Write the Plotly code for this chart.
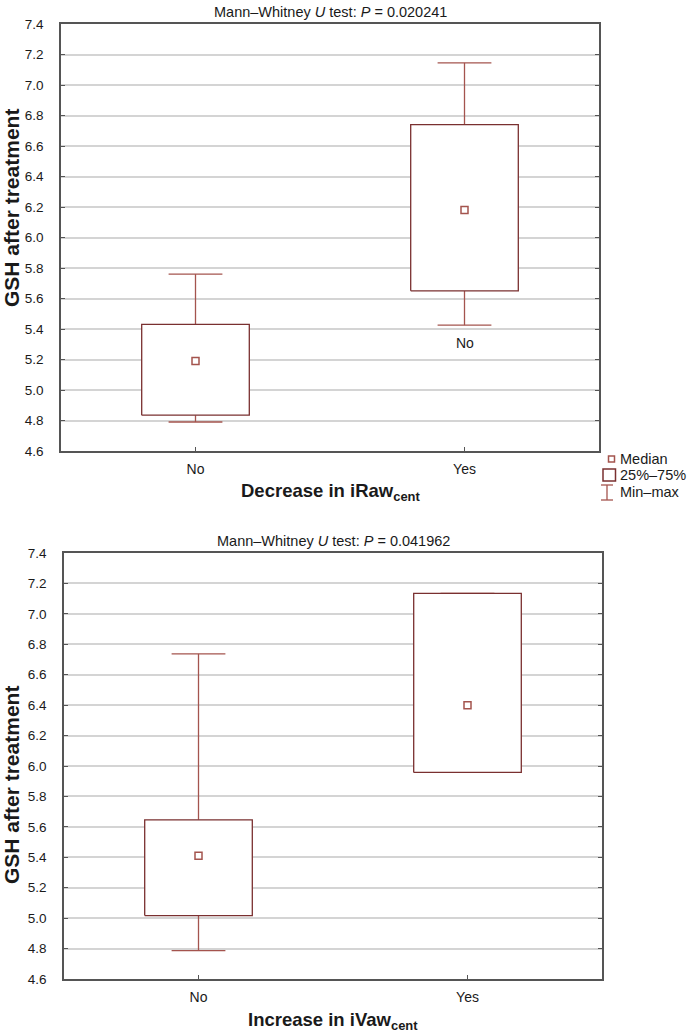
import plotly.graph_objects as go

# ---------------- data ----------------
categories = ["No", "Yes"]

# Panel 1: Decrease in iRaw_cent
p1_min = [4.79, 5.425]
p1_q1 = [4.835, 5.65]
p1_median = [5.19, 6.18]
p1_q3 = [5.43, 6.74]
p1_max = [5.76, 7.145]
p1_title = "Mann–Whitney <i>U</i> test: <i>P</i> = 0.020241"
p1_xlabel = "Decrease in iRaw<sub>cent</sub>"
p1_note_text = "No"
p1_note_y = 5.31

# Panel 2: Increase in iVaw_cent
p2_min = [4.787, 5.958]
p2_q1 = [5.017, 5.958]
p2_median = [5.41, 6.40]
p2_q3 = [5.646, 7.135]
p2_max = [6.737, 7.135]
p2_title = "Mann–Whitney <i>U</i> test: <i>P</i> = 0.041962"
p2_xlabel = "Increase in iVaw<sub>cent</sub>"

y_label = "GSH after treatment"
y_ticks = [4.6, 4.8, 5.0, 5.2, 5.4, 5.6, 5.8, 6.0, 6.2, 6.4, 6.6, 6.8, 7.0, 7.2, 7.4]
legend_labels = ["Median", "25%–75%", "Min–max"]

# ---------------- styling ----------------
W, H = 687, 1034
BOX_C = "#7a3030"
WHISK_C = "#a4544e"
MED_C = "#a4544e"
GRID_C = "#d4d4d4"
AXIS_C = "#555555"
TXT_C = "#1a1a1a"
FONT = "Liberation Sans, Arial, sans-serif"
BOX_HALF = 0.2
CAP_HALF = 0.1


def py_(py):
    return 1 - py / H


def px_(px):
    return px / W


fig = go.Figure()


def add_panel(xa, ya, mins, q1s, meds, q3s, maxs):
    xs_ref = "x" if xa == 1 else f"x{xa}"
    ys_ref = "y" if ya == 1 else f"y{ya}"
    for i, _ in enumerate(categories):
        fig.add_trace(go.Scatter(
            x=[i, i, None, i, i, None, i - CAP_HALF, i + CAP_HALF, None, i - CAP_HALF, i + CAP_HALF],
            y=[q3s[i], maxs[i], None, q1s[i], mins[i], None, maxs[i], maxs[i], None, mins[i], mins[i]],
            mode="lines", line=dict(color=WHISK_C, width=1.3),
            xaxis=xs_ref, yaxis=ys_ref, showlegend=False, hoverinfo="skip"))
        fig.add_trace(go.Scatter(
            x=[i - BOX_HALF, i + BOX_HALF, i + BOX_HALF, i - BOX_HALF, i - BOX_HALF],
            y=[q1s[i], q1s[i], q3s[i], q3s[i], q1s[i]],
            mode="lines", line=dict(color=BOX_C, width=1.3), fill="toself",
            fillcolor="white", xaxis=xs_ref, yaxis=ys_ref, showlegend=False, hoverinfo="skip"))
    fig.add_trace(go.Scatter(
        x=list(range(len(categories))), y=meds, mode="markers",
        marker=dict(symbol="square-open", size=7, color=MED_C, line=dict(width=1.5, color=MED_C)),
        xaxis=xs_ref, yaxis=ys_ref, showlegend=False))


add_panel(1, 1, p1_min, p1_q1, p1_median, p1_q3, p1_max)
add_panel(2, 2, p2_min, p2_q1, p2_median, p2_q3, p2_max)

p1_left, p1_right, p1_top, p1_bot = 61, 599, 24, 451
p2_left, p2_right, p2_top, p2_bot = 64, 602, 553, 979

xcommon = dict(range=[-0.5, 1.5], tickvals=list(range(len(categories))), ticktext=categories,
               showgrid=False, zeroline=False, showline=True, linecolor=AXIS_C, linewidth=1.5,
               mirror=True, ticks="inside", ticklen=4, tickcolor=AXIS_C, ticklabelstandoff=4,
               tickfont=dict(family=FONT, size=14, color=TXT_C), fixedrange=True, automargin=False)
ycommon = dict(range=[4.6, 7.4], tickvals=y_ticks, ticktext=[f"{v:.1f}" for v in y_ticks],
               showgrid=True, gridcolor=GRID_C, gridwidth=1.5, zeroline=False,
               showline=True, linecolor=AXIS_C, linewidth=1.5, mirror="ticks",
               ticks="inside", ticklen=4, tickcolor=AXIS_C, ticklabelstandoff=13,
               tickfont=dict(family=FONT, size=13.5, color=TXT_C), fixedrange=True, automargin=False)

fig.update_layout(
    width=W, height=H, margin=dict(l=0, r=0, t=0, b=0, autoexpand=False),
    paper_bgcolor="white", plot_bgcolor="white", showlegend=False,
    font=dict(family=FONT, color=TXT_C),
    xaxis=dict(xcommon, domain=[px_(p1_left), px_(p1_right)], anchor="y"),
    yaxis=dict(ycommon, domain=[py_(p1_bot), py_(p1_top)], anchor="x"),
    xaxis2=dict(xcommon, domain=[px_(p2_left), px_(p2_right)], anchor="y2"),
    yaxis2=dict(ycommon, domain=[py_(p2_bot), py_(p2_top)], anchor="x2"),
)


def ann(text, x, y, size, xanchor="center", yanchor="middle", angle=0, xref="paper", yref="paper"):
    return dict(text=text, x=x, y=y, xref=xref, yref=yref, showarrow=False, textangle=angle,
                xanchor=xanchor, yanchor=yanchor, font=dict(size=size, family=FONT, color=TXT_C))


annotations = [
    ann(p1_title, px_((p1_left + p1_right) / 2), py_(12), 14.5),
    ann(p2_title, px_((p2_left + p2_right) / 2), py_(541), 14.5),
    ann(f"<b>{p1_xlabel}</b>", px_((p1_left + p1_right) / 2), py_(492), 18.5),
    ann(f"<b>{p2_xlabel}</b>", px_((p2_left + p2_right) / 2), py_(1021), 18.5),
    ann(f"<b>{y_label}</b>", px_(11), py_(208), 21, angle=-90),
    ann(f"<b>{y_label}</b>", px_(11), py_(785), 21, angle=-90),
    ann(p1_note_text, 1, p1_note_y, 14, xref="x", yref="y"),
]
leg_rows_px = [459, 475, 492]
for lbl, ry in zip(legend_labels, leg_rows_px):
    annotations.append(ann(lbl, px_(618), py_(ry), 14.5, xanchor="left"))
fig.update_layout(annotations=annotations)

shapes = [
    dict(type="rect", xref="paper", yref="paper", x0=px_(608.5), x1=px_(614.5),
         y0=py_(462), y1=py_(456), line=dict(color=MED_C, width=1.5)),
    dict(type="rect", xref="paper", yref="paper", x0=px_(603), x1=px_(615.5),
         y0=py_(481), y1=py_(469), line=dict(color=BOX_C, width=1.5)),
]
for (x0, y0, x1, y1) in [(607, 485, 607, 500), (601, 485, 613, 485), (601, 500, 613, 500)]:
    shapes.append(dict(type="line", xref="paper", yref="paper", x0=px_(x0), x1=px_(x1),
                       y0=py_(y0), y1=py_(y1), line=dict(color=WHISK_C, width=1.3)))
fig.update_layout(shapes=shapes)

fig.write_html("out.html", config={"displayModeBar": False},
               post_script="document.body.style.margin='0px';document.body.style.overflow='hidden';")
